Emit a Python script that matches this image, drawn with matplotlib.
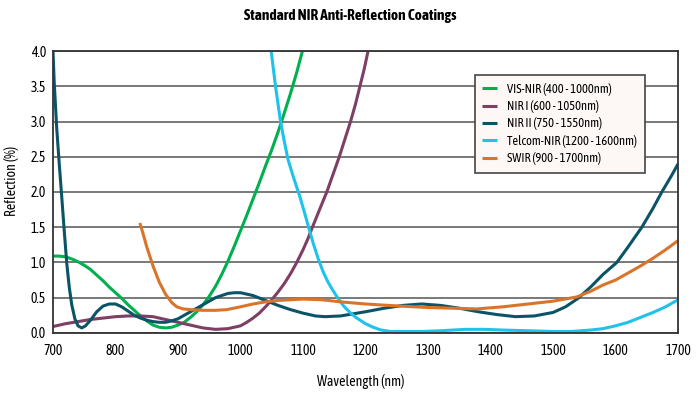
import matplotlib
matplotlib.use("Agg")
import matplotlib.pyplot as plt
from matplotlib import font_manager

# the original uses a condensed font; take one that also has a bold face
fonts = font_manager.fontManager.ttflist
narrow = sorted({f.name for f in fonts if 'Narrow' in f.name or 'Condensed' in f.name})
with_bold = [n for n in narrow
             if any(f.name == n and (f.weight == 'bold' or (isinstance(f.weight, int) and f.weight >= 600))
                    for f in fonts)]
if with_bold:
    base_font = with_bold[0]
elif narrow:
    base_font = narrow[0]
else:
    base_font = 'Liberation Sans'
plt.rcParams['font.family'] = [base_font, 'DejaVu Sans']

# VIS-NIR (400 - 1000nm)
vis_wl = [700, 710, 720, 730, 740, 750, 760, 770, 780, 790, 800, 810, 820, 830, 840, 850,
          860, 870, 880, 890, 900, 910, 920, 930, 940, 950, 960, 970, 980, 990, 1000,
          1010, 1020, 1030, 1040, 1050, 1060, 1070, 1080, 1090, 1099]
vis_r = [1.09, 1.09, 1.08, 1.05, 1.01, 0.96, 0.90, 0.82, 0.74, 0.65, 0.57, 0.49, 0.40, 0.32, 0.24, 0.17,
         0.11, 0.08, 0.07, 0.08, 0.11, 0.15, 0.22, 0.30, 0.40, 0.52, 0.66, 0.83, 1.02, 1.23, 1.45,
         1.67, 1.90, 2.13, 2.37, 2.60, 2.85, 3.12, 3.40, 3.70, 4.00]

# NIR I (600 - 1050nm)
nir1_wl = [700, 720, 740, 760, 780, 800, 820, 840, 860, 880, 900, 920, 940, 960, 980, 1000,
           1010, 1020, 1030, 1040, 1050, 1060, 1070, 1080, 1090, 1100, 1108, 1115, 1126, 1138,
           1148, 1158, 1167, 1176, 1184, 1191, 1198, 1204]
nir1_r = [0.09, 0.13, 0.16, 0.19, 0.21, 0.23, 0.24, 0.24, 0.23, 0.19, 0.15, 0.11, 0.07, 0.05, 0.06, 0.10,
          0.15, 0.21, 0.28, 0.37, 0.47, 0.58, 0.70, 0.84, 1.00, 1.18, 1.34, 1.50, 1.74, 2.00,
          2.25, 2.50, 2.75, 3.00, 3.25, 3.50, 3.75, 4.00]

# NIR II (750 - 1550nm)
nir2_wl = [700, 702, 706, 710, 714, 718, 722, 726, 730, 735, 740, 746, 752, 760, 770, 780, 790, 800,
           810, 820, 830, 840, 850, 860, 870, 880, 890, 900, 920, 940, 960, 980, 990, 1000,
           1020, 1040, 1060, 1080, 1100, 1120, 1135, 1160, 1180, 1200, 1230, 1260, 1290, 1320,
           1350, 1380, 1410, 1440, 1470, 1500, 1520, 1540, 1560, 1580, 1602, 1620, 1642, 1660,
           1674, 1690, 1700]
nir2_r = [4.00, 3.55, 2.90, 2.40, 1.93, 1.45, 0.99, 0.65, 0.40, 0.20, 0.10, 0.07, 0.10, 0.18, 0.30, 0.38, 0.41, 0.41,
          0.37, 0.31, 0.25, 0.21, 0.18, 0.16, 0.15, 0.15, 0.17, 0.20, 0.30, 0.40, 0.50, 0.56, 0.57, 0.57,
          0.53, 0.46, 0.39, 0.33, 0.28, 0.24, 0.23, 0.24, 0.27, 0.30, 0.35, 0.39, 0.41, 0.39,
          0.35, 0.30, 0.26, 0.23, 0.24, 0.29, 0.37, 0.49, 0.65, 0.83, 1.00, 1.22, 1.50, 1.77,
          2.00, 2.24, 2.40]

# Telcom-NIR (1200 - 1600nm)
tel_wl = [1049, 1056, 1064, 1070, 1076, 1085, 1094, 1101, 1108, 1116, 1124, 1132, 1140, 1148, 1156,
          1165, 1175, 1186, 1200, 1212, 1225, 1240, 1260, 1290, 1320, 1360, 1390, 1420, 1460, 1500,
          1530, 1560, 1580, 1600, 1620, 1640, 1660, 1680, 1700]
tel_r = [4.00, 3.50, 3.00, 2.72, 2.46, 2.20, 1.96, 1.75, 1.53, 1.28, 1.06, 0.87, 0.72, 0.60, 0.49,
         0.38, 0.29, 0.21, 0.13, 0.08, 0.04, 0.02, 0.02, 0.02, 0.03, 0.05, 0.05, 0.04, 0.03, 0.02,
         0.02, 0.04, 0.06, 0.10, 0.15, 0.22, 0.29, 0.37, 0.47]

# SWIR (900 - 1700nm)
swir_wl = [839, 845, 850, 860, 870, 880, 890, 898, 908, 920, 940, 960, 978, 1000, 1020, 1040, 1060,
           1080, 1100, 1130, 1160, 1200, 1255, 1300, 1340, 1378, 1420, 1460, 1500, 1538, 1560,
           1580, 1600, 1620, 1640, 1660, 1680, 1700]
swir_r = [1.56, 1.38, 1.22, 0.95, 0.72, 0.55, 0.43, 0.37, 0.34, 0.33, 0.32, 0.32, 0.33, 0.37, 0.41, 0.44, 0.46,
          0.47, 0.48, 0.47, 0.44, 0.41, 0.38, 0.36, 0.35, 0.34, 0.37, 0.41, 0.45, 0.51, 0.59,
          0.68, 0.75, 0.85, 0.95, 1.06, 1.18, 1.31]

fig = plt.figure(figsize=(7, 3.93), dpi=100)
ax = fig.add_axes([0.0757, 0.153, 0.893, 0.717])

ax.plot(vis_wl, vis_r, color='#00b04f', lw=2.2, label='VIS-NIR (400 - 1000nm)', solid_capstyle='butt')
ax.plot(nir1_wl, nir1_r, color='#7d3f63', lw=2.2, label='NIR I (600 - 1050nm)', solid_capstyle='butt')
ax.plot(nir2_wl, nir2_r, color='#0b5367', lw=2.2, label='NIR II (750 - 1550nm)', solid_capstyle='butt')
ax.plot(tel_wl, tel_r, color='#1fc2ea', lw=2.2, label='Telcom-NIR (1200 - 1600nm)', solid_capstyle='butt')
ax.plot(swir_wl, swir_r, color='#da742b', lw=2.2, label='SWIR (900 - 1700nm)', solid_capstyle='butt')

ax.set_xlim(700, 1700)
ax.set_ylim(0, 4.0)
ax.set_xticks(range(700, 1701, 100))
ax.set_yticks([0.5 * i for i in range(9)])
ax.set_yticklabels(['%.1f' % (0.5 * i) for i in range(9)])
ax.grid(axis='y', color='#555555', lw=1.1)
ax.set_axisbelow(True)
ax.tick_params(axis='x', length=0, labelsize=10, pad=8)
ax.tick_params(axis='y', length=0, labelsize=10, pad=5)
for s in ax.spines.values():
    s.set_color('#333333')
    s.set_linewidth(1.3)

# axis titles placed by hand, the font is tall
fig.text(0.5157, 0.028, 'Wavelength (nm)', fontsize=10, ha='center', va='center')
fig.text(0.017, 0.54, 'Reflection (%)', fontsize=10, ha='center', va='center', rotation=90)
fig.suptitle('Standard NIR Anti-Reflection Coatings', fontsize=11, fontweight='bold', y=0.978)

leg = ax.legend(loc='upper right', bbox_to_anchor=(0.947, 0.915), borderaxespad=0, fontsize=9,
                frameon=True, fancybox=False, shadow=False, handlelength=1.2, handletextpad=0.8,
                borderpad=0.6, labelspacing=0.35)
leg.get_frame().set_facecolor('#fdf8f6')
leg.get_frame().set_edgecolor('#444444')
leg.get_frame().set_linewidth(1.2)
leg.get_frame().set_alpha(1)

fig.savefig('out.png', dpi=100)
